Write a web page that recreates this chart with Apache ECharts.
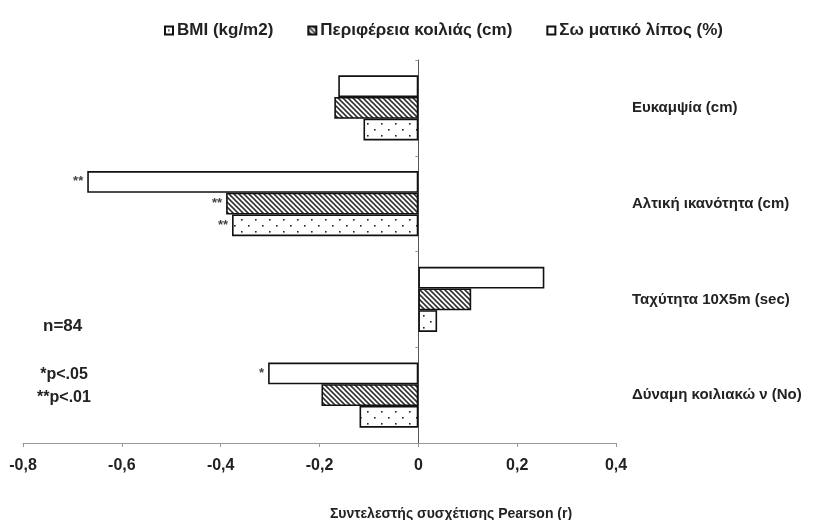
<!DOCTYPE html>
<html>
<head>
<meta charset="utf-8">
<script src="https://cdn.jsdelivr.net/npm/echarts@6/dist/echarts.min.js"></script>
<style>html,body{margin:0;padding:0;background:#fff}#c{width:822px;height:520px}</style>
</head>
<body>
<div id="c"></div>
<script>
// Categories (top to bottom)
var categories = ['Ευκαμψία (cm)', 'Αλτική ικανότητα (cm)', 'Ταχύτητα 10X5m (sec)', 'Δύναμη κοιλιακώ ν (No)'];
// Series names
var seriesNames = ['BMI (kg/m2)', 'Περιφέρεια κοιλιάς (cm)', 'Σω ματικό λίπος (%)'];
// Pearson r values per category
var bmiValues   = [-0.111, -0.377, 0.038, -0.119];
var waistValues = [-0.170, -0.389, 0.107, -0.196];
var fatValues   = [-0.162, -0.670, 0.255, -0.304];
// Significance marks
var bmiSig   = ['', '**', '', ''];
var waistSig = ['', '**', '', ''];
var fatSig   = ['', '**', '', '*'];
// Axis ticks
var xMin = -0.8, xMax = 0.4, xStep = 0.2;

function makeDots() {
  var c = document.createElement('canvas');
  c.width = 14; c.height = 12;
  var g = c.getContext('2d');
  g.fillStyle = '#fff'; g.fillRect(0, 0, 14, 12);
  g.fillStyle = '#222';
  g.fillRect(3, 3, 1.6, 1.6);
  g.fillRect(10, 9, 1.6, 1.6);
  return c;
}
function makeHatch() {
  var s = 5;
  var c = document.createElement('canvas');
  c.width = s; c.height = s;
  var g = c.getContext('2d');
  g.fillStyle = '#fff'; g.fillRect(0, 0, s, s);
  g.strokeStyle = '#333'; g.lineWidth = 1.6;
  for (var k = -1; k <= 1; k++) {
    g.beginPath(); g.moveTo(k * s - 1, -1); g.lineTo(k * s + s + 1, s + 1); g.stroke();
  }
  return c;
}
var dotFill = { image: makeDots(), repeat: 'repeat' };
var hatchFill = { image: makeHatch(), repeat: 'repeat' };

var FONT = "'Liberation Sans', Arial, sans-serif";

function mkSeries(name, values, sig, fill) {
  return {
    name: name,
    type: 'bar',
    yAxisIndex: 0,
    barGap: '0%',
    barCategoryGap: '32%',
    itemStyle: { color: fill, borderColor: '#111', borderWidth: 1.6 },
    label: {
      show: true,
      position: 'left',
      distance: 4,
      color: '#444',
      fontSize: 13,
      fontWeight: 'bold',
      fontFamily: FONT,
      formatter: function (p) { return sig[p.dataIndex]; }
    },
    emphasis: { disabled: true },
    data: values
  };
}

var chart = echarts.init(document.getElementById('c'), null, { renderer: 'canvas' });
chart.setOption({
  animation: false,
  backgroundColor: '#fff',
  legend: {
    top: 17,
    left: 159,
    itemWidth: 8,
    itemHeight: 8,
    itemGap: 34,
    icon: 'rect',
    textStyle: { fontFamily: FONT, fontWeight: 'bold', fontSize: 17, color: '#222', padding: [0, 0, 0, -1] },
    data: seriesNames
  },
  grid: { left: 23, right: 206, top: 60, bottom: 77, containLabel: false },
  xAxis: {
    type: 'value',
    min: xMin, max: xMax, interval: xStep,
    axisLine: { show: true, lineStyle: { color: '#999', width: 1 } },
    axisTick: { show: true, length: 4, lineStyle: { color: '#999' } },
    splitLine: { show: false },
    axisLabel: {
      margin: 15,
      fontFamily: FONT, fontWeight: 'bold', fontSize: 16, color: '#222',
      formatter: function (v) { return (Math.round(v * 10) / 10).toString().replace('.', ','); }
    }
  },
  yAxis: [{
    type: 'category',
    inverse: true,
    data: categories,
    axisLine: { show: true, onZero: true, lineStyle: { color: '#555', width: 1 } },
    axisTick: { show: true, length: 3, lineStyle: { color: '#999' } },
    axisLabel: { show: false }
  }, {
    type: 'category',
    inverse: true,
    position: 'right',
    data: categories,
    axisLine: { show: false, onZero: false },
    axisTick: { show: false },
    axisLabel: {
      margin: 16, align: 'left',
      fontFamily: FONT, fontWeight: 'bold', fontSize: 15, color: '#222'
    }
  }],
  series: [
    mkSeries(seriesNames[2], fatValues, fatSig, '#fff'),
    mkSeries(seriesNames[1], waistValues, waistSig, hatchFill),
    mkSeries(seriesNames[0], bmiValues, bmiSig, dotFill)
  ],
  graphic: [
    { type: 'text', left: 43, top: 318, style: { text: 'n=84', font: "bold 17px " + FONT, fill: '#222' } },
    { type: 'text', x: 64, y: 375, style: { text: '*p<.05', font: "bold 16px " + FONT, fill: '#222', textAlign: 'center', textVerticalAlign: 'middle' } },
    { type: 'text', x: 64, y: 398, style: { text: '**p<.01', font: "bold 16px " + FONT, fill: '#222', textAlign: 'center', textVerticalAlign: 'middle' } },
    { type: 'text', x: 451, y: 514, style: { text: 'Συντελεστής συσχέτισης Pearson (r)', font: "bold 14px " + FONT, fill: '#222', textAlign: 'center', textVerticalAlign: 'middle' } }
  ]
});
</script>
</body>
</html>
